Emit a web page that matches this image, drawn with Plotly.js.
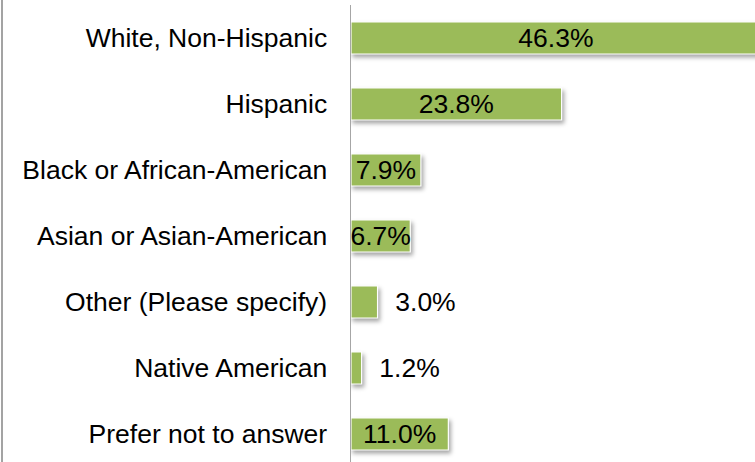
<!DOCTYPE html>
<html>
<head>
<meta charset="utf-8">
<script src="https://cdn.plot.ly/plotly-3.0.1.min.js"></script>
<style>
html, body { margin: 0; padding: 0; background: #fff; }
#frame { position: absolute; left: 1px; top: 0; width: 2px; height: 462px; background: #A3A3A3; }
#chart { position: absolute; left: 0; top: 0; width: 755px; height: 462px; }
#chart .trace.bars .point path { filter: drop-shadow(2px 3px 2px rgba(0,0,0,0.35)); }
</style>
</head>
<body>
<div id="chart"></div>
<div id="frame"></div>
<script>
const categories = [
  "White, Non-Hispanic",
  "Hispanic",
  "Black or African-American",
  "Asian or Asian-American",
  "Other (Please specify)",
  "Native American",
  "Prefer not to answer"
];
const percents = [46.3, 23.8, 7.9, 6.7, 3.0, 1.2, 11.0];
const labelOutside = [false, false, false, false, true, true, false];

const positions = labelOutside.map(o => o ? 'outside' : 'inside');
const templates = labelOutside.map(o => o ? '\u00a0\u00a0%{x:.1f}%' : '%{x:.1f}%');

const trace = {
  type: 'bar',
  orientation: 'h',
  x: percents,
  y: categories,
  marker: { color: '#9BBB59', line: { color: '#ffffff', width: 1.2 } },
  texttemplate: templates,
  textposition: positions,
  insidetextanchor: 'middle',
  constraintext: 'none',
  textangle: 0,
  textfont: { family: 'Liberation Sans, Arial, sans-serif', size: 26.5, color: '#000' },
  cliponaxis: true,
  hoverinfo: 'skip'
};

const layout = {
  width: 755,
  height: 462,
  margin: { l: 351, r: 0, t: 5, b: 0, pad: 0 },
  paper_bgcolor: '#ffffff',
  plot_bgcolor: '#ffffff',
  showlegend: false,
  bargap: 0.515,
  font: { family: 'Liberation Sans, Arial, sans-serif', size: 26.5, color: '#000' },
  xaxis: {
    range: [0, 45.65],
    showgrid: false, zeroline: false, showline: false,
    showticklabels: false, ticks: '', fixedrange: true
  },
  yaxis: {
    type: 'category',
    categoryorder: 'array',
    categoryarray: categories,
    range: [6.424, -0.5],
    showgrid: false, zeroline: false,
    showline: true, linecolor: '#A6A6A6', linewidth: 1.5,
    ticks: '', ticklabelstandoff: 17,
    tickfont: { family: 'Liberation Sans, Arial, sans-serif', size: 26.5, color: '#000' },
    fixedrange: true
  }
};

Plotly.newPlot('chart', [trace], layout, { staticPlot: true, displayModeBar: false });
</script>
</body>
</html>
